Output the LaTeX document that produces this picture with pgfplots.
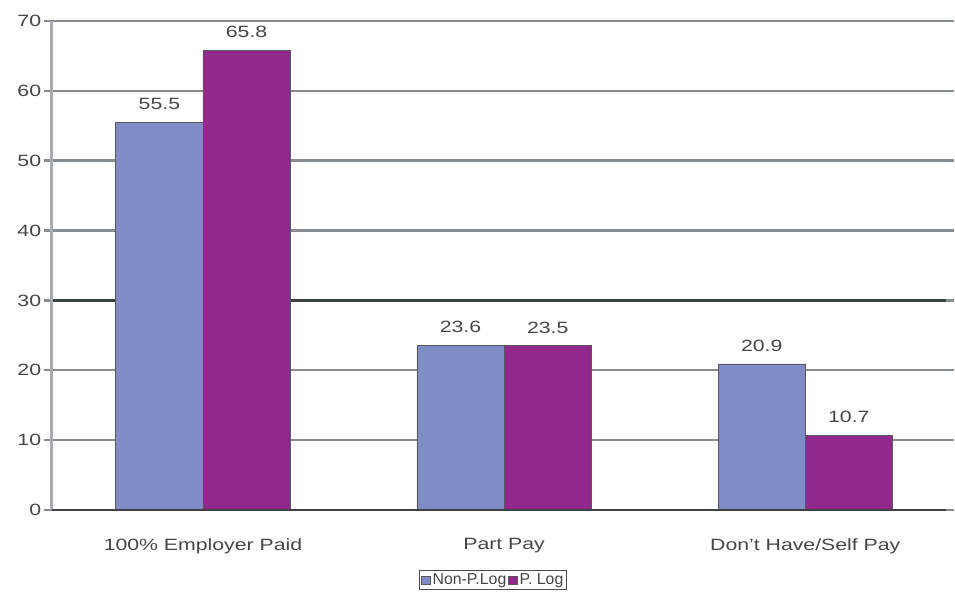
\documentclass[border=0pt]{standalone}
\usepackage{pgfplots}
\pgfplotsset{compat=1.18}
\usepackage{fontspec}
\usepackage{graphicx}
\setmainfont{Liberation Sans}
\definecolor{nonplog}{RGB}{127,140,198}
\definecolor{plog}{RGB}{145,40,140}
\definecolor{gridgray}{RGB}{135,140,145}
\definecolor{darkline}{RGB}{60,66,66}
\definecolor{axgray}{RGB}{168,172,178}
\definecolor{labelgray}{RGB}{70,70,70}
% labels are set wide, as in the original chart
\newcommand{\wide}[1]{\scalebox{1.3}[1]{#1}}
\begin{document}
\begin{tikzpicture}[x=1pt,y=1pt]
\path (-52,-84) rectangle (903,515);
\begin{axis}[
  at={(0,0)}, anchor=south west,
  scale only axis, width=903pt, height=494pt,
  ybar=0pt, bar width=88pt,
  ymin=0, ymax=70, ytick={0,10,...,70},
  xmin=-0.503, xmax=2.467,
  xtick=data,
  xticklabels={\wide{100\% Employer Paid}, \wide{Part Pay}, \wide{Don't Have/Self Pay}},
  xtick style={draw=none},
  ytick style={draw=gridgray, line width=2.4pt},
  tick align=outside, major tick length=8pt,
  ymajorgrids, grid style={gridgray, line width=2.4pt},
  extra y ticks={30}, extra y tick labels={},
  extra y tick style={grid style={darkline, line width=3.4pt}, tick style={draw=darkline, line width=3.4pt}},
  axis line style={draw=none},
  tick label style={font=\fontsize{16.5}{18}\selectfont, text=labelgray},
  yticklabel={\wide{\pgfmathprintnumber{\tick}}},
  yticklabel style={xshift=1pt},
  xticklabel style={yshift=-17pt},
  /pgf/number format/assume math mode=true,
  nodes near coords={\wide{\pgfmathprintnumber[fixed,fixed zerofill,precision=1]{\pgfplotspointmeta}}},
  nodes near coords style={font=\fontsize{16.5}{18}\selectfont, text=labelgray, yshift=9pt},
  every axis plot/.append style={draw=black!65, line width=0.8pt},
  legend columns=2,
  legend style={at={(0.494,-0.136)}, anchor=north, yshift=7pt, draw=black!70, line width=0.8pt,
    font=\fontsize{16}{17}\selectfont, inner sep=1.5pt, text=labelgray,
    /tikz/every even column/.append style={column sep=0pt}},
  legend image code/.code={\draw[#1, line width=0.4pt] (0pt,-4pt) rectangle (9pt,4pt);},
  clip=false,
]
\addplot[fill=nonplog] coordinates {(0,55.5) (1,23.6) (2,20.9)};
\addplot[fill=plog] coordinates {(0,65.8) (1,23.5) (2,10.7)};
\legend{Non-P.Log, P. Log}
\draw[axgray, line width=3pt] (axis cs:-0.503,0) -- (axis cs:-0.503,70);
\draw[black!75, line width=2.2pt] (axis cs:-0.503,0) -- (axis cs:2.467,0);
\end{axis}
\end{tikzpicture}
\end{document}
